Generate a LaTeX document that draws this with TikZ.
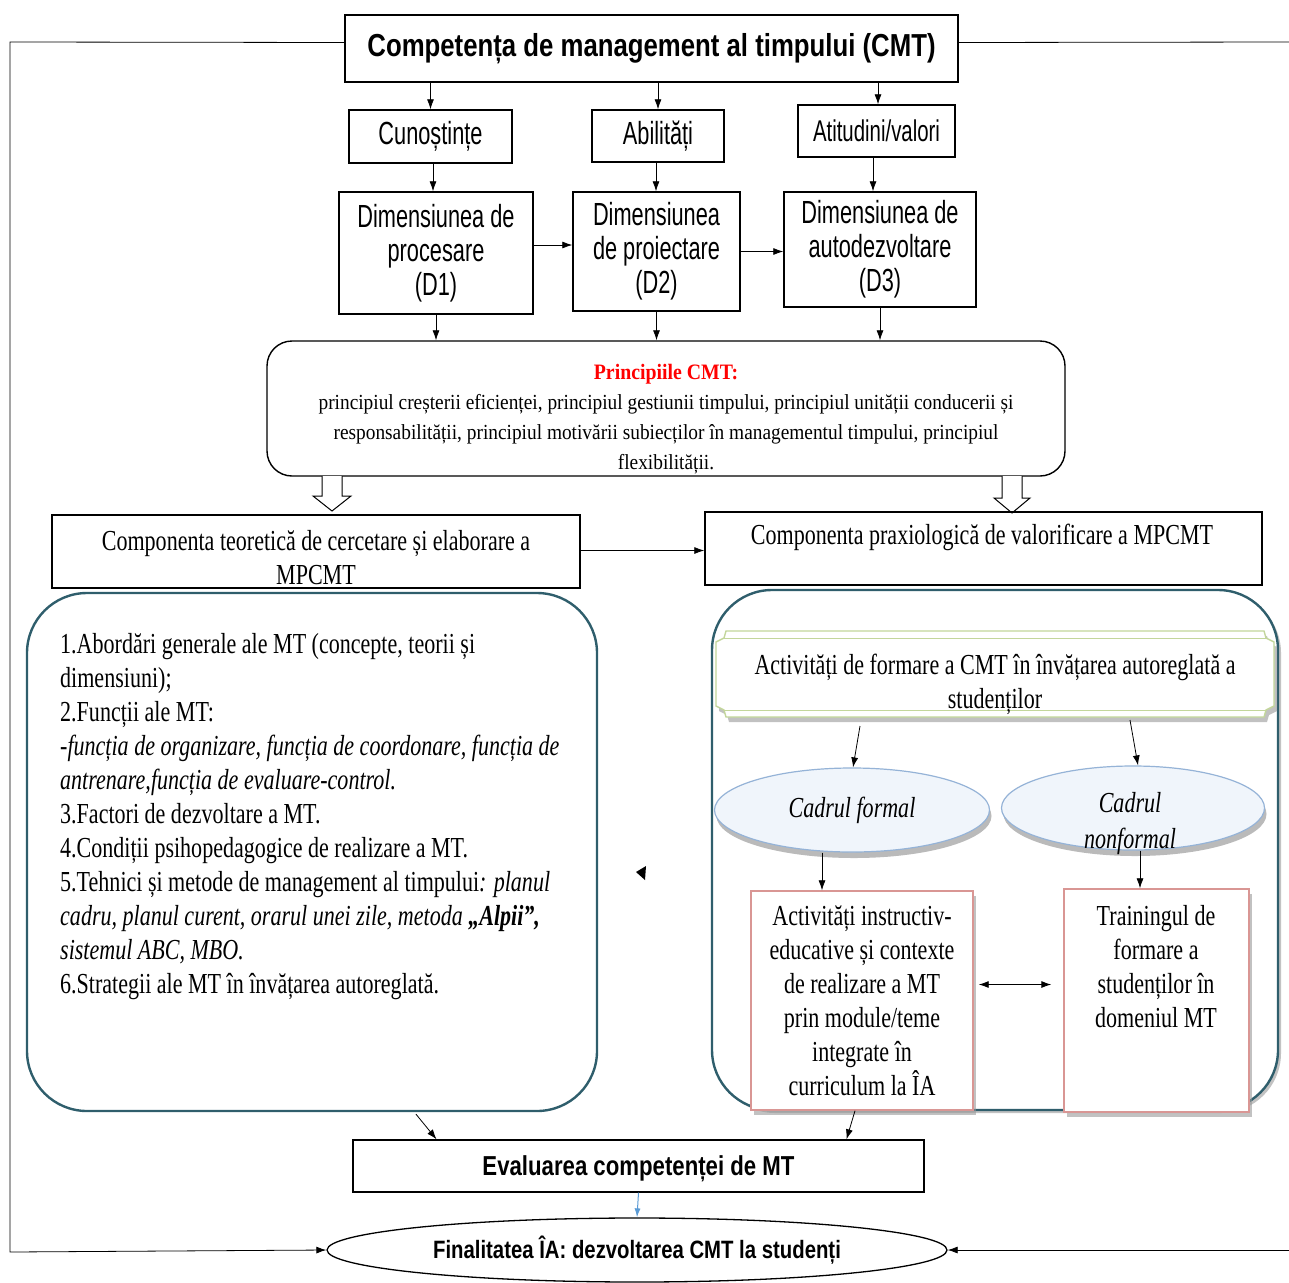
\documentclass[tikz,border=0pt]{standalone}
\usepackage{fontspec}
\setmainfont{Liberation Serif}[FakeStretch=0.76]
\newfontfamily\serifP{Liberation Serif}[FakeStretch=0.9]
\newfontfamily\sansA{Liberation Sans}[FakeStretch=0.68]
\newfontfamily\sansB{Liberation Sans}[FakeStretch=0.81]
\usetikzlibrary{arrows.meta,shapes.geometric,shadows,calc}
\definecolor{tealb}{RGB}{47,94,108}
\definecolor{lblue}{RGB}{149,179,215}
\definecolor{efill}{RGB}{240,245,251}
\definecolor{pinkb}{RGB}{217,150,148}
\definecolor{greenb}{RGB}{195,214,155}
\definecolor{bluear}{RGB}{91,155,213}
\tikzset{
  bx/.style={draw, line width=1.4pt, inner sep=0pt, align=center},
  ar/.style={-{Latex[length=10pt,width=7pt]}, line width=0.8pt},
  sz/.style={font=\sansA\fontsize{32}{34}\selectfont},
  sr/.style={font=\fontsize{29}{34}\selectfont},
  shd/.style={drop shadow={shadow xshift=3pt,shadow yshift=-5pt,fill=black!40,opacity=0.6}},
  hollow/.style={draw, line width=1pt, fill=white},
}
\begin{document}
\begin{tikzpicture}[x=1pt,y=-1pt]
\useasboundingbox (0,0) rectangle (1289,1282);

% top row
\node[bx, minimum width=613pt, minimum height=67pt, font=\sansB\bfseries\fontsize{31.8}{36}\selectfont] (top) at (651.5,48.5) {Competența de management al timpului (CMT)};
\node[bx, sz, minimum width=163pt, minimum height=53pt] (cun) at (430.5,136.5) {Cunoștințe};
\node[bx, sz, minimum width=132pt, minimum height=52pt] (abi) at (658,136) {Abilități};
\node[bx, minimum width=157pt, minimum height=52pt, font=\sansA\fontsize{30}{34}\selectfont] (ati) at (876.5,131) {Atitudini/valori};

\node[bx, sz, minimum width=194pt, minimum height=122pt] (d1) at (436,253) {Dimensiunea de\\procesare\\(D1)};
\node[bx, sz, minimum width=167pt, minimum height=119pt] (d2) at (656.5,251.5) {Dimensiunea\\de proiectare\\(D2)};
\node[bx, sz, minimum width=192pt, minimum height=115pt] (d3) at (880,249.5) {Dimensiunea de\\autodezvoltare\\(D3)};

\draw[ar] (cun.north |- top.south) -- (cun.north);
\draw[ar] (abi.north |- top.south) -- (abi.north);
\draw[ar] ([xshift=1.5pt]ati.north |- top.south) -- ([xshift=1.5pt]ati.north);
\draw[ar] ([xshift=2.5pt]cun.south) -- ([xshift=2.5pt]cun.south |- d1.north);
\draw[ar] ([xshift=-2pt]abi.south) -- ([xshift=-2pt]abi.south |- d2.north);
\draw[ar] ([xshift=-3.5pt]ati.south) -- ([xshift=-3.5pt]ati.south |- d3.north);
\draw[ar] ([yshift=8pt]d1.east) -- ([yshift=8pt]d1.east -| d2.west);
\draw[ar] (d2.east) -- (d2.east -| d3.west);

% principles
\node[draw, line width=1.4pt, rounded corners=25pt, minimum width=798pt, minimum height=135pt] (pr) at (666,408.5) {};
\node[align=center, inner sep=0pt, font=\serifP\fontsize{21.5}{30}\selectfont] (prt) at (666,419) {{\color{red}\bfseries\fontsize{22}{30}\selectfont Principiile CMT:}\\
principiul creșterii eficienței, principiul gestiunii timpului, principiul unității conducerii și\\
responsabilității, principiul motivării subiecților în managementul timpului, principiul\\
flexibilității.};
\draw[ar] (d1.south) -- (d1.south |- pr.north);
\draw[ar] (d2.south) -- (d2.south |- pr.north);
\draw[ar] (d3.south) -- (d3.south |- pr.north);

% hollow arrows
\coordinate (ha1) at (332,476);
\coordinate (ha2) at (1012,476);
\draw[hollow] (ha1) ++(-10,0) -- ++(0,20) -- ++(-9,0) -- ++(19,15) -- ++(19,-15) -- ++(-9,0) -- ++(0,-20);
\draw[hollow] (ha2) ++(-10,0) -- ++(0,22) -- ++(-8,0) -- ++(18,15) -- ++(18,-15) -- ++(-8,0) -- ++(0,-22);

% components
\node[bx, minimum width=528pt, minimum height=73pt] (lc) at (316,551.5) {};
\node[sr, align=center, inner sep=0pt] at (316,558) {Componenta teoretică de cercetare și elaborare a\\MPCMT};
\node[bx, minimum width=557pt, minimum height=73pt] (rc) at (983.5,548.5) {};
\node[sr, inner sep=0pt] at (982,537) {Componenta praxiologică de valorificare a MPCMT};
\draw[ar] ([yshift=1pt]lc.east) -- ([yshift=1pt]lc.east -| rc.west);

% left big box
\node[draw=tealb, line width=2.4pt, rounded corners=60pt, minimum width=570pt, minimum height=518pt] (lb) at (312,852) {};
\node[sr, align=left, anchor=north west, inner sep=0pt] (lbt) at (60,633) {1.Abordări generale ale MT (concepte, teorii și\\
dimensiuni);\\
2.Funcții ale MT:\\
\itshape -funcția de organizare, funcția de coordonare, funcția de\\
\itshape antrenare,funcția de evaluare-control.\\
3.Factori de dezvoltare a MT.\\
4.Condiții psihopedagogice de realizare a MT.\\
5.Tehnici și metode de management al timpului\textit{: planul}\\
\itshape cadru, planul curent, orarul unei zile, metoda \textbf{„Alpii”,}\\
\itshape sistemul ABC, MBO.\\
6.Strategii ale MT în învățarea autoreglată.};

% stray arrowhead
\fill (636,872) -- (646,866) -- (645,880) -- cycle;

% right big box
\node[draw=tealb, line width=2.4pt, rounded corners=60pt, minimum width=566pt, minimum height=520pt, drop shadow={shadow xshift=3pt,shadow yshift=-3pt,fill=black!40,opacity=0.6}, fill=white] (rb) at (995,850) {};

% scroll
\draw[draw=greenb, line width=1.4pt, fill=white, shd] (726,631) -- (1264,631) -- (1266,638) -- (1274,642) -- (1274,706) -- (1266,710) -- (1264,717) -- (726,717) -- (724,710) -- (716,706) -- (716,642) -- (724,638) -- cycle;
\draw[greenb, line width=1pt] (724,638) -- (1266,638);
\draw[greenb, line width=1pt] (724,710) -- (1266,710);
\node[sr, align=center, inner sep=0pt] (sct) at (995,684) {Activități de formare a CMT în învățarea autoreglată a\\studenților};
\coordinate (scl) at (860,726);
\coordinate (scr) at (1130,720);

% ellipses
\node[ellipse, draw=lblue, line width=1.2pt, fill=efill, minimum width=275pt, minimum height=84pt, inner sep=0pt, drop shadow={shadow xshift=2pt,shadow yshift=-6pt,fill=black!45,opacity=0.6}, font=\fontsize{29}{34}\selectfont\itshape] (cf) at (852,810) {Cadrul formal};
\node[ellipse, draw=lblue, line width=1.2pt, fill=efill, minimum width=263pt, minimum height=84pt, inner sep=0pt, drop shadow={shadow xshift=2pt,shadow yshift=-6pt,fill=black!45,opacity=0.6}] (cn) at (1133,808) {};
\node[align=center, inner sep=0pt, font=\fontsize{29}{36}\selectfont\itshape] at (1130,824) {Cadrul\\nonformal};
\draw[ar] (scl) -- ([xshift=1pt]cf.north);
\draw[ar] (scr) -- ([xshift=5pt]cn.north);

% pink boxes
\node[draw=pinkb, line width=1.4pt, fill=white, shd, minimum width=222pt, minimum height=219pt, inner sep=0pt, align=center, sr] (pl) at (862,1000.5) {Activități instructiv-\\educative și contexte\\de realizare a MT\\prin module/teme\\integrate în\\curriculum la ÎA};
\node[draw=pinkb, line width=1.4pt, fill=white, shd, minimum width=185pt, minimum height=223pt, inner sep=0pt] (pt) at (1156.5,1000.5) {};
\node[sr, align=center, inner sep=0pt] at (1156,967) {Trainingul de\\formare a\\studenților în\\domeniul MT};
\draw[ar] ([xshift=-30pt]cf.south) -- ([xshift=-30pt]cf.south |- pl.north);
\draw[ar] ([xshift=7pt]cn.south) -- ([xshift=-16.5pt]pt.north);
\draw[{Latex[length=10pt,width=7pt]}-{Latex[length=10pt,width=7pt]}, line width=0.9pt] ([xshift=5pt,yshift=16pt]pl.east) -- ([xshift=-12pt,yshift=16pt]pt.west);

% evaluation
\node[bx, minimum width=571pt, minimum height=52pt, text depth=0pt, font=\sansB\bfseries\fontsize{27.4}{30}\selectfont] (ev) at (638.5,1166) {Evaluarea competenței de MT};
\draw[ar] ([xshift=104pt,yshift=-2pt]lb.south) -- ([xshift=-202pt]ev.north);
\draw[ar] ([xshift=-7pt]pl.south) -- ([xshift=208pt]ev.north);

% final
\node[ellipse, draw, line width=1.3pt, minimum width=620pt, minimum height=64pt, inner sep=0pt, font=\sansB\bfseries\fontsize{25.1}{30}\selectfont] (fin) at (637,1250) {Finalitatea ÎA: dezvoltarea CMT la studenți};
\draw[-{Latex[length=9pt,width=6pt]}, bluear, line width=1pt] (ev.south) -- (fin.north);

% outer lines
\draw[ar] ([yshift=6pt]top.west) -- (10,42) -- (10,1252) -- (fin.west);
\coordinate (re1) at (1289,42);
\coordinate (re2) at (1289,1250);
\draw[line width=0.8pt] ([yshift=6pt]top.east) -- (re1);
\draw[ar] (re2) -- (fin.east);
\end{tikzpicture}
\end{document}
